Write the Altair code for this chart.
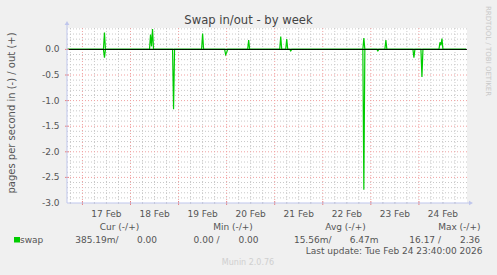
import altair as alt
import pandas as pd
import numpy as np

# ---------------- data ----------------
out_times = ["2026-02-17 11:00", "2026-02-18 10:00", "2026-02-18 10:30", "2026-02-18 11:00",
             "2026-02-19 12:00", "2026-02-20 11:00", "2026-02-21 03:00", "2026-02-21 06:00",
             "2026-02-22 20:30", "2026-02-23 07:30", "2026-02-24 10:30", "2026-02-24 11:00",
             "2026-02-24 11:30"]
out_values = [0.33, 0.29, 0.06, 0.40, 0.31, 0.18, 0.25, 0.20, 0.22, 0.18, 0.14, 0.08, 0.21]

in_times = ["2026-02-17 11:00", "2026-02-18 21:30", "2026-02-19 23:30", "2026-02-20 00:00",
            "2026-02-21 08:00", "2026-02-22 20:30", "2026-02-23 03:30", "2026-02-23 21:30",
            "2026-02-24 01:30"]
in_values = [0.16, 1.17, 0.10, 0.06, 0.03, 2.74, 0.03, 0.16, 0.54]

day_labels = ["17 Feb", "18 Feb", "19 Feb", "20 Feb", "21 Feb", "22 Feb", "23 Feb", "24 Feb"]
y_ticks = [0.0, -0.5, -1.0, -1.5, -2.0, -2.5, -3.0]

title_text = "Swap in/out - by week"
y_title = "pages per second in (-) / out (+)"
legend_headers = ["Cur (-/+)", "Min (-/+)", "Avg (-/+)", "Max (-/+)"]
legend_name = "swap"
legend_values = ["385.19m/", "0.00", "0.00 /", "0.00", "15.56m/", "6.47m", "16.17 /", "2.36"]
last_update = "Last update: Tue Feb 24 23:40:00 2026"
footer = "Munin 2.0.76"
side_text = "RRDTOOL / TOBI OETIKER"

# ---------------- build table ----------------
origin = pd.Timestamp("2026-02-17 00:00")
grid_t = pd.date_range("2026-02-16 16:30", "2026-02-24 23:30", freq="30min")
base = pd.Series(0.0, index=grid_t)
s_out = base.copy()
s_out[pd.to_datetime(out_times)] = out_values
s_in = base.copy()
s_in[pd.to_datetime(in_times)] = [-v for v in in_values]

def hours(ts):
    return (ts - origin) / pd.Timedelta(hours=1)

df = pd.concat([
    pd.DataFrame({"h": hours(grid_t), "v": s_out.values, "s": "out"}),
    pd.DataFrame({"h": hours(grid_t), "v": s_in.values, "s": "in"}),
])

X0, X1 = -7.7, 192.0
Y0, Y1 = -3.0, 0.418
W, H = 400, 175
L, T = 67, 28
xs = alt.Scale(domain=[X0, X1], nice=False, zero=False)
ys = alt.Scale(domain=[Y0, Y1], nice=False, zero=False)

FONT = "DejaVu Sans"
TXT = "#555555"
GREEN = "#00CC00"
AXC = "#BFC6EC"

# grid lines
vmin = [h for h in range(-6, 192, 6) if h % 24 != 0]
vmaj = [h for h in range(0, 192, 24)]
hmin = [round(-3.0 + 0.1 * k, 1) for k in range(1, 35) if round((-3.0 + 0.1 * k) * 10) % 5 != 0]
hmaj = [-2.5, -2.0, -1.5, -1.0, -0.5]

def vrules(vals, color):
    return alt.Chart(pd.DataFrame({"h": vals})).mark_rule(
        color=color, strokeDash=[1, 2], strokeWidth=1
    ).encode(x=alt.X("h:Q", scale=xs, axis=None))

def hrules(vals, color):
    return alt.Chart(pd.DataFrame({"v": vals})).mark_rule(
        color=color, strokeDash=[1, 2], strokeWidth=1
    ).encode(y=alt.Y("v:Q", scale=ys, axis=None))

grid = (vrules(vmin, "#C8C8C8") + hrules(hmin, "#C8C8C8")
        + vrules(vmaj, "#F0A0A0") + hrules(hmaj, "#F0A0A0"))

lines = alt.Chart(df).mark_line(color=GREEN, strokeWidth=1.2, clip=True).encode(
    x=alt.X("h:Q", scale=xs, axis=None),
    y=alt.Y("v:Q", scale=ys, axis=None),
    detail="s:N",
)

zero = alt.Chart(pd.DataFrame({"v": [0.0]})).mark_rule(color="black", strokeWidth=1).encode(
    y=alt.Y("v:Q", scale=ys, axis=None))

# axis tick labels placed through the scales
xlab = alt.Chart(pd.DataFrame({"h": [12 + 24 * k for k in range(len(day_labels))],
                               "t": day_labels})).mark_text(
    font=FONT, fontSize=9, color=TXT, baseline="middle", align="center"
).encode(x=alt.X("h:Q", scale=xs, axis=None), y=alt.value(H + 10.5), text="t:N")

ylab = alt.Chart(pd.DataFrame({"v": y_ticks, "t": ["%.1f" % v for v in y_ticks]})).mark_text(
    font=FONT, fontSize=9, color=TXT, baseline="middle", align="right"
).encode(y=alt.Y("v:Q", scale=ys, axis=None), x=alt.value(-7.5), text="t:N")

# ticks
dticks = alt.Chart(pd.DataFrame({"h": vmaj})).mark_rule(color="#E88080").encode(
    x=alt.X("h:Q", scale=xs, axis=None), y=alt.value(H - 2), y2=alt.value(H + 2))
mticks = alt.Chart(pd.DataFrame({"h": vmin})).mark_rule(color="#C8C8C8").encode(
    x=alt.X("h:Q", scale=xs, axis=None), y=alt.value(H - 1), y2=alt.value(H + 1))
yticks_m = alt.Chart(pd.DataFrame({"v": hmaj + [0.0]})).mark_rule(color="#E88080").encode(
    y=alt.Y("v:Q", scale=ys, axis=None), x=alt.value(-2), x2=alt.value(2))

# axis lines with arrows
one = pd.DataFrame({"a": [0]})
yaxis_line = alt.Chart(one).mark_rule(color=AXC, strokeWidth=1).encode(
    x=alt.value(0), y=alt.value(H), y2=alt.value(-4))
xaxis_line = alt.Chart(one).mark_rule(color=AXC, strokeWidth=1).encode(
    x=alt.value(0), x2=alt.value(W + 3), y=alt.value(H))
up_arrow = alt.Chart(one).mark_point(shape="triangle-up", filled=True, color=AXC,
                                     size=22, opacity=1).encode(x=alt.value(0), y=alt.value(-5))
right_arrow = alt.Chart(one).mark_point(shape="triangle-right", filled=True, color=AXC,
                                        size=22, opacity=1).encode(x=alt.value(W + 4), y=alt.value(H))

def text(t, x, y, align="center", size=9, color=TXT, angle=0, baseline="middle"):
    return alt.Chart(pd.DataFrame({"t": [t]})).mark_text(
        align=align, baseline=baseline, font=FONT, fontSize=size, color=color, angle=angle
    ).encode(x=alt.value(x - L), y=alt.value(y - T), text="t:N")

texts = [
    text(title_text, 248.5, 21, size=11.6, color="#444444"),
    text(y_title, 12, 113, size=10, angle=270),
    text(side_text, 488, 51, size=7, color="#C8C8C8", angle=90),
    text(last_update, 482.5, 251, align="right"),
    text(footer, 248, 262.5, size=8, color="#CFCFCF"),
    text(legend_name, 20, 239.5, align="left"),
]
for h_txt, cx in zip(legend_headers, [119.5, 233, 345.5, 459.3]):
    texts.append(text(h_txt, cx, 227))
for v_txt, rx in zip(legend_values, [118.5, 157, 219.5, 258.5, 331.5, 378.5, 441, 480]):
    texts.append(text(v_txt, rx, 239.5, align="right"))

swatch = alt.Chart(one).mark_rect(color=GREEN).encode(
    x=alt.value(14 - L), x2=alt.value(20 - L), y=alt.value(237 - T), y2=alt.value(242.5 - T))

chart = alt.layer(
    grid, lines, zero, dticks, mticks, yticks_m, yaxis_line, xaxis_line, up_arrow, right_arrow,
    xlab, ylab, swatch, *texts
).properties(
    width=W, height=H,
    autosize=alt.AutoSizeParams(type="none"),
    padding={"left": L, "top": T, "right": 497 - L - W, "bottom": 275 - T - H},
    background="#F0F0F0",
).configure_view(fill="white", stroke=None)

chart.save("out.html", embed_options={"renderer": "svg", "actions": False})
